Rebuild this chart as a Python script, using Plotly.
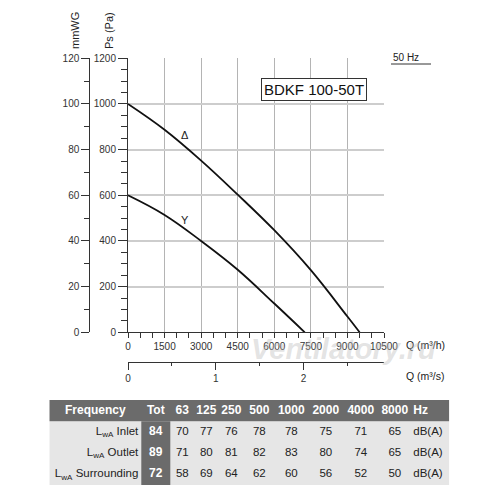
import plotly.graph_objects as go

# ── fan curves ──────────────────────────────────────────────────────────────
Q_DELTA = [0, 1500, 3000, 4500, 6000, 7500, 9000, 9500]      # m3/h
P_DELTA = [1000, 887, 752, 603, 447, 272, 69, 0]              # Pa
Q_STAR = [0, 1500, 3000, 4500, 6000, 7250]
P_STAR = [600, 514, 400, 274, 126, 0]

# ── sound table ─────────────────────────────────────────────────────────────
BANDS = ["63", "125", "250", "500", "1000", "2000", "4000", "8000"]
ROW_LABELS = ["L<sub>wA</sub> Inlet", "L<sub>wA</sub> Outlet", "L<sub>wA</sub> Surrounding"]
TOTALS = [84, 89, 72]
INLET = [70, 77, 76, 78, 78, 75, 71, 65]
OUTLET = [71, 80, 81, 82, 83, 80, 74, 65]
SURROUND = [58, 69, 64, 62, 60, 56, 52, 50]

FONT = "Liberation Sans, Arial, sans-serif"
INK = "#222"
DARK = "#6b6b6b"
LIGHT = "#e6e6e6"
# table column widths in px: label, Tot, 8 bands, unit
COL_W = [92, 29, 24, 24, 26, 30, 34, 35, 35, 33, 38]

# the page body has an 8px margin, so the figure is a bit smaller and
# positions below are given in window pixels and converted here
OFF, SIZE = 8, 492


def fx(px):
    return (px - OFF) / SIZE


def fy(py):
    return 1 - (py - OFF) / SIZE


fig = go.Figure()

fig.add_trace(go.Scatter(x=Q_DELTA, y=P_DELTA, mode="lines",
                         line=dict(color="#111", width=1.8, shape="spline", smoothing=1.1),
                         hoverinfo="skip"))
fig.add_trace(go.Scatter(x=Q_STAR, y=P_STAR, mode="lines",
                         line=dict(color="#111", width=1.8, shape="spline", smoothing=1.1),
                         hoverinfo="skip"))
# invisible traces so the secondary scales get drawn
fig.add_trace(go.Scatter(x=Q_DELTA, y=[p / 10 for p in P_DELTA], yaxis="y2", mode="lines",
                         line=dict(width=0), opacity=0, hoverinfo="skip"))
fig.add_trace(go.Scatter(x=[q / 3600 for q in Q_DELTA], y=P_DELTA, xaxis="x2", mode="lines",
                         line=dict(width=0), opacity=0, hoverinfo="skip"))

# ── table, drawn on its own hidden axes (x in px from left edge, y in rows) ─
edges = [0]
for w in COL_W:
    edges.append(edges[-1] + w)
centers = [(edges[i] + edges[i + 1]) / 2 for i in range(len(COL_W))]
TW = edges[-1]

shapes = [
    dict(type="rect", xref="x3", yref="y3", x0=0, x1=TW, y0=0, y1=3, fillcolor=LIGHT, line_width=0, layer="below"),
    dict(type="rect", xref="x3", yref="y3", x0=0, x1=TW, y0=3, y1=4, fillcolor=DARK, line_width=0, layer="below"),
    dict(type="rect", xref="x3", yref="y3", x0=edges[1], x1=edges[2], y0=0, y1=3, fillcolor=DARK, line_width=0,
         layer="below"),
    # underline of "50 Hz"
    dict(type="line", xref="paper", yref="paper", x0=fx(391), x1=fx(431),
         y0=fy(64), y1=fy(64), line=dict(color="#333", width=1)),
]

hdr = ["Frequency", "Tot"] + BANDS
fig.add_trace(go.Scatter(x=centers[:10], y=[3.5] * 10, xaxis="x3", yaxis="y3", mode="text",
                         text=[f"<b>{h}</b>" for h in hdr], textposition="middle center",
                         textfont=dict(family=FONT, size=12, color="white"), hoverinfo="skip"))
fig.add_trace(go.Scatter(x=[edges[10] + 2], y=[3.5], xaxis="x3", yaxis="y3", mode="text",
                         text=["<b>Hz</b>"], textposition="middle right",
                         textfont=dict(family=FONT, size=12, color="white"), hoverinfo="skip"))

row_y = [2.5, 1.5, 0.5]
fig.add_trace(go.Scatter(x=[edges[1] - 3] * 3, y=row_y, xaxis="x3", yaxis="y3", mode="text",
                         text=ROW_LABELS, textposition="middle left",
                         textfont=dict(family=FONT, size=11.5, color=INK), hoverinfo="skip"))
fig.add_trace(go.Scatter(x=[centers[1]] * 3, y=row_y, xaxis="x3", yaxis="y3", mode="text",
                         text=[f"<b>{t}</b>" for t in TOTALS], textposition="middle center",
                         textfont=dict(family=FONT, size=12, color="white"), hoverinfo="skip"))
for yy, vals in zip(row_y, [INLET, OUTLET, SURROUND]):
    fig.add_trace(go.Scatter(x=centers[2:10], y=[yy] * 8, xaxis="x3", yaxis="y3", mode="text",
                             text=[str(v) for v in vals], textposition="middle center",
                             textfont=dict(family=FONT, size=11.5, color=INK), hoverinfo="skip"))
fig.add_trace(go.Scatter(x=[edges[10] + 2] * 3, y=row_y, xaxis="x3", yaxis="y3", mode="text",
                         text=["dB(A)"] * 3, textposition="middle right",
                         textfont=dict(family=FONT, size=11.5, color=INK), hoverinfo="skip"))

# ── annotations ─────────────────────────────────────────────────────────────
ann = [
    dict(x=2336, y=864, xref="x", yref="y", text="Δ", font=dict(size=11)),
    dict(x=2336, y=492, xref="x", yref="y", text="Y", font=dict(size=11)),
    dict(x=fx(75), y=fy(31), xref="paper", yref="paper", text="mmWG", textangle=-90, font=dict(size=11)),
    dict(x=fx(109), y=fy(31), xref="paper", yref="paper", text="Ps (Pa)", textangle=-90, font=dict(size=11)),
    dict(x=fx(391), y=fy(57), xref="paper", yref="paper", text="50 Hz", xanchor="left", font=dict(size=10)),
    dict(x=fx(404), y=fy(345), xref="paper", yref="paper", text="Q (m³/h)", xanchor="left", font=dict(size=10.5)),
    dict(x=fx(404), y=fy(376), xref="paper", yref="paper", text="Q (m³/s)", xanchor="left", font=dict(size=10.5)),
    dict(x=fx(343), y=fy(349), xref="paper", yref="paper", text="<b><i>Ventilatory.ru</i></b>",
         font=dict(size=29, color="rgba(185,185,185,0.4)")),
    dict(x=fx(313.8), y=fy(89.7), xref="paper", yref="paper", text="BDKF 100-50T",
         font=dict(size=15, color="#111"), bordercolor="#333", borderwidth=1, borderpad=2, bgcolor="white"),
]
for a in ann:
    a["showarrow"] = False
    a.setdefault("xanchor", "center")
    a["yanchor"] = "middle"
    a["font"] = dict(family=FONT, color=a["font"].get("color", INK), size=a["font"]["size"])

# ── axes ────────────────────────────────────────────────────────────────────
tickfont = dict(family=FONT, size=10, color="#333")
common = dict(automargin=False, zeroline=False, showline=True, linecolor="#333", linewidth=1,
              ticks="outside", tickcolor="#333", tickfont=tickfont, tickformat="d")
fig.update_layout(
    width=SIZE, height=SIZE,
    margin=dict(l=0, r=0, t=0, b=0, autoexpand=False),
    paper_bgcolor="white", plot_bgcolor="white",
    font=dict(family=FONT, color=INK),
    showlegend=False,
    annotations=ann,
    shapes=shapes,
    xaxis=dict(common, domain=[fx(128), fx(384)], range=[0, 10500], dtick=1500, tick0=0,
               showgrid=True, gridcolor="#b4b4b4", gridwidth=1, ticklen=5,
               minor=dict(dtick=500, ticks="outside", ticklen=5, tickcolor="#333", showgrid=False)),
    yaxis=dict(common, domain=[fy(332.3), fy(58.3)], range=[0, 1200], dtick=200, tick0=0,
               showgrid=True, gridcolor="#cdcdcd", gridwidth=1.5, ticklen=9,
               minor=dict(dtick=50, ticks="outside", ticklen=6, tickcolor="#333", showgrid=False)),
    yaxis2=dict(common, overlaying="y", anchor="free", position=fx(89.3), side="left",
                range=[0, 120], dtick=20, tick0=0, showgrid=False, ticklen=8,
                minor=dict(dtick=10, ticks="outside", ticklen=5, tickcolor="#333", showgrid=False)),
    xaxis2=dict(common, overlaying="x", anchor="free", position=fy(362.3), side="bottom",
                range=[0, 10500 / 3600], dtick=1, tick0=0, showgrid=False, ticklen=7,
                minor=dict(dtick=0.5, ticks="outside", ticklen=3, tickcolor="#333", showgrid=False)),
    xaxis3=dict(domain=[fx(49.3), fx(49.3 + TW)], range=[0, TW], visible=False, fixedrange=True,
                anchor="y3"),
    yaxis3=dict(domain=[fy(485), fy(400)], range=[0, 4], visible=False, fixedrange=True,
                anchor="x3"),
)

fig.write_html("out.html")
